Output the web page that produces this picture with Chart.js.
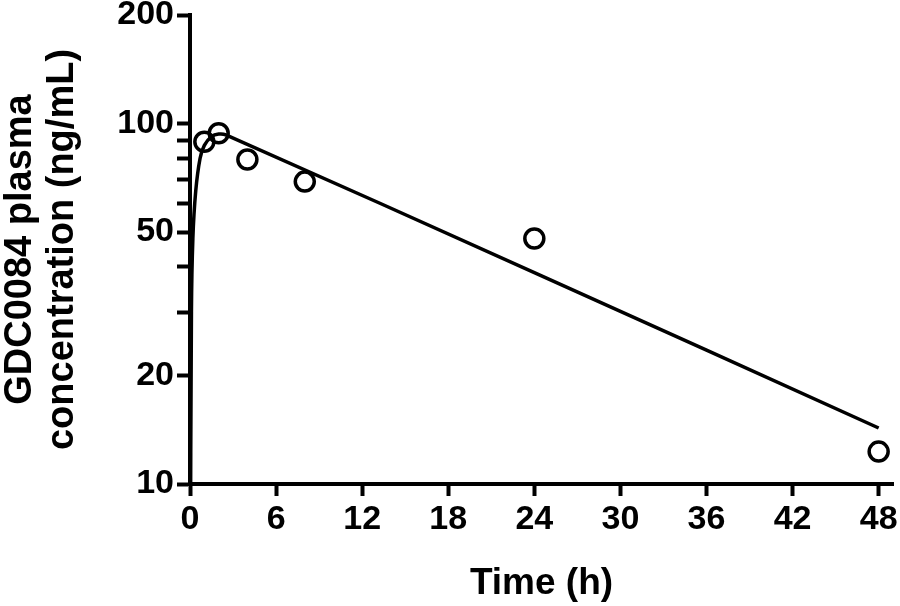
<!DOCTYPE html>
<html>
<head>
<meta charset="utf-8">
<script src="https://cdn.jsdelivr.net/npm/chart.js@4.4.0/dist/chart.umd.min.js"></script>
<style>
  html, body { margin: 0; padding: 0; background: #fff; }
  #wrap { width: 900px; height: 606px; }
</style>
</head>
<body>
<div id="wrap"><canvas id="pkChart" width="900" height="606"></canvas></div>
<script>
// observed concentrations
const obsTime = [1, 2, 4, 8, 24, 48];
const obsConc = [89, 94, 79.5, 69, 48, 12.3];

// fitted curve
const fitTime = [0.02, 0.1, 0.2, 0.4, 0.7, 1.0, 1.5, 2.0, 2.5, 24, 48];
const fitConc = [5, 30, 48, 65, 80, 87, 92, 93.5, 93, 38.6, 14.3];

const xTicks = [0, 6, 12, 18, 24, 30, 36, 42, 48];
const yTicks = [10, 20, 30, 40, 50, 60, 70, 80, 90, 100, 200];
const yLabels = [10, 20, 50, 100, 200];

const fontFam = '"Liberation Sans", Arial, Helvetica, sans-serif';

const data = {
    datasets: [{
        label: 'Fit',
        type: 'line',
        data: fitTime.map((t, i) => ({x: t, y: fitConc[i]})),
        borderColor: '#000',
        borderWidth: 3.5,
        pointRadius: 0,
        tension: 0.3,
        fill: false
    }, {
        label: 'Observed',
        data: obsTime.map((t, i) => ({x: t, y: obsConc[i]})),
        pointStyle: 'circle',
        pointRadius: 9.5,
        pointBorderWidth: 3.5,
        borderColor: '#000',
        backgroundColor: 'rgba(0,0,0,0)'
    }]
}

const config = {
    type: 'scatter',
    data,
    options: {
        responsive: false,
        animation: false,
        layout: { padding: { top: 15, right: 7, left: 0, bottom: 0 } },
        plugins: { legend: { display: false }, tooltip: { enabled: false } },
        scales: {
            x: {
                type: 'linear',
                min: 0,
                max: 49,
                afterBuildTicks: s => { s.ticks = xTicks.map(v => ({value: v})) },
                afterFit: s => { s.height = 122 },
                afterCalculateLabelRotation: s => { s.options.ticks.padding = 3 },
                ticks: {
                    includeBounds: false,
                    autoSkip: false,
                    maxRotation: 0,
                    color: '#000',
                    padding: 3,
                    font: { family: fontFam, size: 34, weight: 'bold' }
                },
                grid: { drawOnChartArea: false, drawTicks: true, tickLength: 12, tickWidth: 4, tickColor: '#000' },
                border: { color: '#000', width: 4 },
                title: {
                    display: true,
                    text: 'Time (h)',
                    color: '#000',
                    padding: { top: 6, bottom: 0 },
                    font: { family: fontFam, size: 37, weight: 'bold' }
                }
            },
            y: {
                type: 'logarithmic',
                min: 10,
                max: 200,
                afterBuildTicks: s => { s.ticks = yTicks.map(v => ({value: v})) },
                afterFit: s => { s.width = 190; s.paddingTop = 0; s.paddingBottom = 0 },
                ticks: {
                    autoSkip: false,
                    color: '#000',
                    padding: 3,
                    font: { family: fontFam, size: 34, weight: 'bold' },
                    callback: v => yLabels.includes(v) ? String(v) : ''
                },
                grid: { drawOnChartArea: false, drawTicks: true, tickLength: 13, tickWidth: 4, tickColor: '#000' },
                border: { color: '#000', width: 4 },
                title: {
                    display: true,
                    text: ['GDC0084 plasma', 'concentration (ng/mL)'],
                    color: '#000',
                    padding: { top: 0, bottom: 0 },
                    font: { family: fontFam, size: 38, weight: 'bold', lineHeight: 1.1 }
                }
            }
        }
    },
    plugins: [{
        id: 'fixRight',
        afterLayout: chart => {
            // the x scale reserves room for the last tick label; push the axis end back out
            const xs = chart.scales.x;
            const want = 893;
            if (xs.right !== want) {
                xs.right = want;
                xs.width = want - xs.left;
                chart.chartArea.right = want;
                chart.chartArea.width = want - chart.chartArea.left;
                xs.configure();
            }
        }
    }]
}

const pkChart = new Chart(document.getElementById('pkChart'), config)
</script>
</body>
</html>
